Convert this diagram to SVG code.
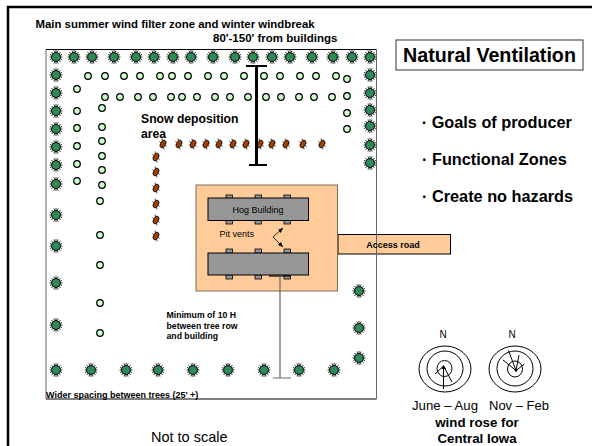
<svg xmlns="http://www.w3.org/2000/svg" width="592" height="446" viewBox="0 0 592 446">
<style>
text{font-family:"Liberation Sans",Arial,sans-serif;fill:#000}
.b{font-weight:bold}
.vent{fill:#969696;stroke:#000;stroke-width:.8}
.bld{fill:#969696;stroke:#000;stroke-width:1}
.ring{fill:none;stroke:#000;stroke-width:1}
.ln{stroke:#000;stroke-width:1;fill:none}
</style>
<defs>
<g id="tree"><path d="M0-7V7M-6.500 0H6.500M-4.500-5L4.500 5M-4.500 5L4.500-5M-2-6.500L2 6.500M2-6.500L-2 6.500M-6-2.500L6 2.500M-6 2.500L6-2.500" stroke="#000" stroke-width=".8"/><circle r="4.400" fill="#2e8b57" stroke="#000" stroke-width=".9"/></g>
<circle id="lt" r="3.300" fill="#ccffcc" stroke="#000" stroke-width="1.200"/>
<g id="br"><path d="M-1-5.500L1 5.500M-3.600-2.500L3.600 2.500M-3.600 1L3.600-1" stroke="#000" stroke-width=".7"/><ellipse rx="2.400" ry="4.200" transform="rotate(25)" fill="#a33f00" stroke="#000" stroke-width=".7"/></g>
<marker id="ah" markerWidth="6" markerHeight="6" refX="5" refY="3" orient="auto" markerUnits="userSpaceOnUse"><path d="M0 .8L5 3L0 5.200Z" fill="#000"/></marker>
</defs>
<g id="frame"><path d="M8 446V7H592" fill="none" stroke="#000" stroke-width="2.500"/></g>
<g id="site"><path d="M46 399V49.500" stroke="#666" stroke-width="1" fill="none"/><path d="M46 49.500H376.500" stroke="#000" stroke-width="1" fill="none"/><path d="M46 399H376.500" stroke="#000" stroke-width="1" fill="none"/></g>
<g id="access-road"><rect x="338" y="234.500" width="112.500" height="19.500" fill="#ffcc99" stroke="#000" stroke-width="1"/><path d="M376.500 49.500V399" stroke="#666" stroke-width="1" fill="none"/><text x="393" y="248" font-size="9" text-anchor="middle" class="b">Access road</text></g>
<g id="windbreak-trees">
<use href="#tree" x="56" y="57"/><use href="#tree" x="74" y="57"/><use href="#tree" x="92" y="57"/><use href="#tree" x="114" y="57"/><use href="#tree" x="136" y="57"/><use href="#tree" x="154" y="57"/><use href="#tree" x="173" y="57"/><use href="#tree" x="191" y="57"/><use href="#tree" x="213" y="57"/><use href="#tree" x="235" y="57"/><use href="#tree" x="253" y="57"/><use href="#tree" x="272" y="57"/><use href="#tree" x="290" y="57"/><use href="#tree" x="312" y="57"/><use href="#tree" x="333" y="57"/><use href="#tree" x="352" y="57"/><use href="#tree" x="370" y="57"/>
<use href="#tree" x="370" y="75"/><use href="#tree" x="370" y="93"/><use href="#tree" x="370" y="110"/><use href="#tree" x="370" y="126"/><use href="#tree" x="370" y="145"/><use href="#tree" x="370" y="163"/>
<use href="#tree" x="359" y="291"/><use href="#tree" x="359" y="328"/><use href="#tree" x="359" y="358"/>
<use href="#tree" x="56" y="75"/><use href="#tree" x="56" y="93"/><use href="#tree" x="56" y="111"/><use href="#tree" x="56" y="129"/><use href="#tree" x="56" y="147"/><use href="#tree" x="56" y="165"/><use href="#tree" x="56" y="184"/><use href="#tree" x="56" y="215"/><use href="#tree" x="56" y="246"/><use href="#tree" x="56" y="283"/><use href="#tree" x="56" y="325"/>
<use href="#tree" x="56" y="370"/><use href="#tree" x="91" y="370"/><use href="#tree" x="126" y="370"/><use href="#tree" x="158" y="370"/><use href="#tree" x="193" y="370"/><use href="#tree" x="228" y="370"/><use href="#tree" x="264" y="370"/><use href="#tree" x="299" y="370"/><use href="#tree" x="334" y="370"/>
</g>
<g id="shrub-rows">
<use href="#lt" x="88" y="76"/><use href="#lt" x="105" y="76"/><use href="#lt" x="124" y="76"/><use href="#lt" x="140" y="76"/><use href="#lt" x="160" y="76"/><use href="#lt" x="172" y="76"/><use href="#lt" x="188" y="76"/><use href="#lt" x="208" y="76"/><use href="#lt" x="224" y="76"/><use href="#lt" x="244" y="76"/><use href="#lt" x="264" y="76"/><use href="#lt" x="280" y="76"/><use href="#lt" x="300" y="76"/><use href="#lt" x="316" y="76"/><use href="#lt" x="336" y="76"/><use href="#lt" x="347" y="79"/>
<use href="#lt" x="105" y="97"/><use href="#lt" x="120" y="97"/><use href="#lt" x="138" y="97"/><use href="#lt" x="153" y="97"/><use href="#lt" x="171" y="97"/><use href="#lt" x="182" y="97"/><use href="#lt" x="197" y="97"/><use href="#lt" x="215" y="97"/><use href="#lt" x="230" y="97"/><use href="#lt" x="248" y="97"/><use href="#lt" x="266" y="97"/><use href="#lt" x="281" y="97"/><use href="#lt" x="299" y="97"/><use href="#lt" x="314" y="97"/><use href="#lt" x="332" y="97"/><use href="#lt" x="347" y="96"/><use href="#lt" x="347" y="113"/><use href="#lt" x="347" y="129"/>
<use href="#lt" x="77" y="89"/><use href="#lt" x="77" y="111"/><use href="#lt" x="77" y="128"/><use href="#lt" x="77" y="146"/><use href="#lt" x="77" y="164"/><use href="#lt" x="77" y="181"/>
<use href="#lt" x="102" y="108"/><use href="#lt" x="102" y="127"/><use href="#lt" x="102" y="141"/><use href="#lt" x="102" y="156"/><use href="#lt" x="102" y="170"/><use href="#lt" x="102" y="185"/><use href="#lt" x="100" y="201"/><use href="#lt" x="100" y="235"/><use href="#lt" x="100" y="265"/><use href="#lt" x="100" y="303"/><use href="#lt" x="100" y="333"/>
</g>
<g id="inner-row">
<use href="#br" x="163" y="144"/><use href="#br" x="179" y="144"/><use href="#br" x="193" y="144"/><use href="#br" x="206" y="144"/><use href="#br" x="219" y="144"/><use href="#br" x="233" y="144"/><use href="#br" x="246" y="144"/><use href="#br" x="260" y="144"/><use href="#br" x="272" y="144"/><use href="#br" x="286" y="144"/><use href="#br" x="303" y="144"/><use href="#br" x="322" y="144"/>
<use href="#br" x="156" y="157"/><use href="#br" x="156" y="172"/><use href="#br" x="156" y="188"/><use href="#br" x="156" y="204"/><use href="#br" x="156" y="220"/><use href="#br" x="156" y="236"/>
</g>
<g id="building-zone"><rect x="196" y="185" width="141.500" height="106" fill="#ffcc99" stroke="#7f6a55" stroke-width="1"/></g>
<g id="hog-building-1">
<rect class="vent" x="226" y="195" width="6.500" height="4"/><rect class="vent" x="255" y="195" width="6.500" height="4"/><rect class="vent" x="284" y="195" width="6.500" height="4"/>
<rect class="vent" x="226" y="220" width="6.500" height="4"/><rect class="vent" x="255" y="220" width="6.500" height="4"/><rect class="vent" x="284" y="220" width="6.500" height="4"/>
<rect class="bld" x="208" y="198" width="100.500" height="22.500"/><text x="258" y="213" font-size="9" text-anchor="middle" fill="#222">Hog Building</text></g>
<g id="hog-building-2">
<rect class="vent" x="226" y="249" width="6.500" height="4"/><rect class="vent" x="255" y="249" width="6.500" height="4"/><rect class="vent" x="284" y="249" width="6.500" height="4"/>
<rect class="vent" x="226" y="275" width="6.500" height="4"/><rect class="vent" x="255" y="275" width="6.500" height="4"/><rect class="vent" x="284" y="275" width="6.500" height="4"/>
<rect class="bld" x="208" y="253" width="100.500" height="22"/></g>
<g id="connectors">
<path d="M273 237L283 228" stroke="#000" stroke-width=".8" fill="none" marker-end="url(#ah)"/>
<path d="M273 237L283 247" stroke="#000" stroke-width=".8" fill="none" marker-end="url(#ah)"/>
<path d="M256.500 66V165" stroke="#000" stroke-width="3" fill="none"/><path d="M246 66H267M249 165H267" stroke="#000" stroke-width="2" fill="none"/>
<path d="M269 276H290" stroke="#000" stroke-width="1.200" fill="none"/>
<path d="M280 276V378M273 378H291" stroke="#666" stroke-width="1.200" fill="none"/>
</g>
<g id="labels">
<text x="35.500" y="27.500" font-size="11.400" class="b">Main summer wind filter zone and winter windbreak</text>
<text x="213" y="42" font-size="11.500" class="b">80'-150' from buildings</text>
<text x="141" y="123" font-size="12.200" class="b" fill="#222">Snow deposition</text>
<text x="141" y="138" font-size="12.200" class="b" fill="#222">area</text>
<text x="219.500" y="237" font-size="9">Pit vents</text>
<text x="166.500" y="318" font-size="8.700" class="b">Minimum of 10 H</text>
<text x="166.500" y="328.500" font-size="8.700" class="b">between tree row</text>
<text x="166.500" y="339" font-size="8.700" class="b">and building</text>
<text x="46" y="398" font-size="9" class="b">Wider spacing between trees (25' +)</text>
<text x="151" y="442" font-size="14.500">Not to scale</text>
</g>
<g id="title"><rect x="396" y="40" width="187" height="30" fill="#fff" stroke="#333" stroke-width="1"/><text x="489.500" y="62" font-size="19.700" class="b" text-anchor="middle">Natural Ventilation</text></g>
<g id="bullets">
<text x="421.700" y="128" font-size="16.300" class="b">· Goals of producer</text>
<text x="422" y="165" font-size="16.300" class="b">· Functional Zones</text>
<text x="422" y="202" font-size="16.300" class="b">· Create no hazards</text>
</g>
<g id="rose-summer">
<ellipse class="ring" cx="445" cy="369" rx="26" ry="23"/><ellipse class="ring" cx="445" cy="368.500" rx="18" ry="17.500"/><ellipse class="ring" cx="444.500" cy="368.500" rx="7.500" ry="8"/>
<path class="ln" d="M443.500 366V389M443.500 366L452 382M443.500 366L435 374"/><path d="M441.500 369L443.500 365L446 369Z" fill="#000"/>
<text x="443" y="337.500" font-size="10" text-anchor="middle" fill="#222">N</text>
<text x="445" y="410" font-size="13.200" text-anchor="middle" fill="#222">June – Aug</text></g>
<g id="rose-winter">
<ellipse class="ring" cx="515" cy="369" rx="26" ry="23"/><ellipse class="ring" cx="515" cy="368.500" rx="18" ry="17.500"/><ellipse class="ring" cx="515" cy="369" rx="7.500" ry="8"/>
<path class="ln" d="M516 370.500L508.500 350.500M516 370.500L519 355M516 370.500L503 360M516 370.500L524.500 364"/><circle cx="516" cy="370.500" r="1.200" fill="#000"/>
<text x="512" y="337.500" font-size="10" text-anchor="middle" fill="#222">N</text>
<text x="519" y="410" font-size="13" text-anchor="middle" fill="#222">Nov – Feb</text></g>
<g id="rose-caption">
<text x="477" y="427" font-size="13.300" class="b" text-anchor="middle">wind rose for</text>
<text x="477" y="443" font-size="13.300" class="b" text-anchor="middle">Central Iowa</text></g>
</svg>
